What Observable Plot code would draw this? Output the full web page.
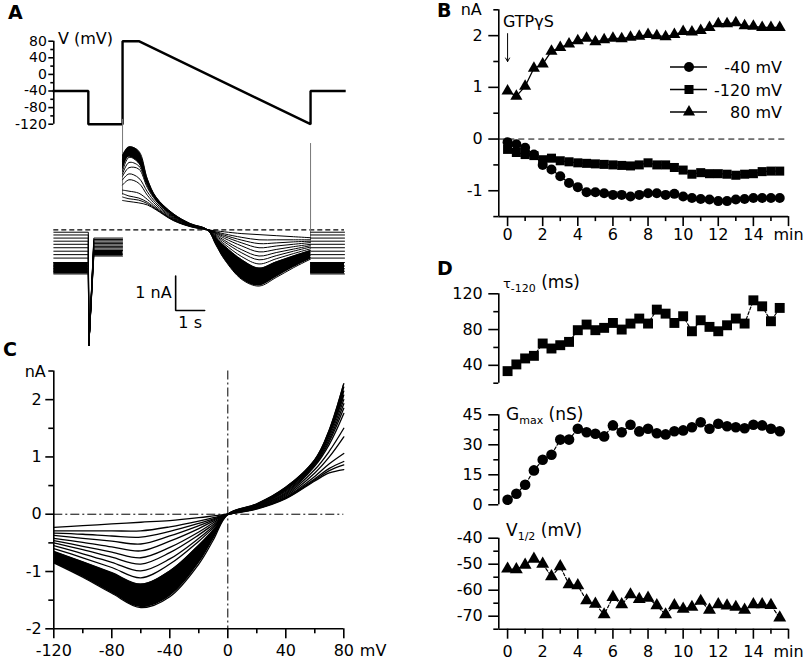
<!DOCTYPE html>
<html><head><meta charset="utf-8">
<script src="https://cdn.jsdelivr.net/npm/d3@7"></script>
<script src="https://cdn.jsdelivr.net/npm/@observablehq/plot@0.6"></script>
<style>
body{margin:0;background:#fff;}
#fig{position:relative;width:803px;height:661px;overflow:hidden;background:#fff;}
</style></head><body><div id="fig"></div>
<script>
// ---------------- DATA ----------------
// Panel A: voltage protocol (time in s, voltage in mV)
const protoT = [0, 1.19, 1.19, 2.37, 2.37, 2.93, 8.85, 8.85, 10.02];
const protoV = [-40, -40, -120, -120, 80, 80, -120, -40, -40];
const protoTicks = [80, 40, 0, -40, -80, -120];
const protoMinor = [60, 20, -20, -60, -100];

// Panel C: ramp I-V traces (nA) at these voltages (mV), earliest -> latest
const ivV = [-120, -100, -80, -60, -40, -20, -10, 0, 20, 40, 60, 70, 80];
const ivTraces = [
  [-0.23,-0.20,-0.17,-0.14,-0.11,-0.06,-0.03,0,0.09,0.27,0.58,0.72,0.78],
  [-0.29,-0.29,-0.29,-0.29,-0.22,-0.12,-0.06,0,0.10,0.28,0.60,0.76,0.86],
  [-0.33,-0.35,-0.38,-0.40,-0.30,-0.16,-0.08,0,0.10,0.29,0.62,0.80,0.92],
  [-0.37,-0.42,-0.47,-0.52,-0.38,-0.20,-0.10,0,0.11,0.30,0.66,0.88,1.06],
  [-0.42,-0.49,-0.57,-0.64,-0.47,-0.25,-0.12,0,0.12,0.32,0.72,1.00,1.35],
  [-0.46,-0.56,-0.66,-0.76,-0.58,-0.31,-0.15,0,0.13,0.34,0.78,1.10,1.50],
  [-0.50,-0.62,-0.75,-0.87,-0.67,-0.36,-0.18,0,0.14,0.36,0.84,1.22,1.76],
  [-0.55,-0.69,-0.84,-0.99,-0.78,-0.42,-0.21,0,0.14,0.38,0.86,1.27,1.85],
  [-0.60,-0.76,-0.93,-1.11,-0.87,-0.47,-0.24,0,0.15,0.40,0.88,1.31,1.93],
  [-0.65,-0.83,-1.02,-1.22,-0.99,-0.54,-0.28,0,0.15,0.42,0.90,1.35,2.00],
  [-0.70,-0.90,-1.12,-1.32,-1.12,-0.62,-0.32,0,0.16,0.43,0.91,1.39,2.08],
  [-0.75,-0.97,-1.21,-1.42,-1.24,-0.71,-0.36,0,0.16,0.44,0.92,1.42,2.15],
  [-0.80,-1.04,-1.30,-1.53,-1.35,-0.80,-0.40,0,0.17,0.46,0.94,1.45,2.22],
  [-0.85,-1.10,-1.38,-1.63,-1.44,-0.87,-0.45,0,0.18,0.47,0.95,1.47,2.28]
];
const ivTicks = [-2, -1, 0, 1, 2];
const ivMinor = [-1.5, -0.5, 0.5, 1.5, 2.5];
const ivVTicks = [-120, -80, -40, 0, 40, 80];
const ivVMinor = [-100, -60, -20, 20, 60];

// Panel A: current traces (nA) in the other protocol steps, one value per trace
const hold40  = [-0.07,-0.15,-0.24,-0.33,-0.42,-0.52,-0.62,-0.72,-0.82,-0.95,-1.05,-1.13,-1.20,-1.28];
const step120 = [-0.24,-0.28,-0.32,-0.36,-0.40,-0.44,-0.48,-0.52,-0.56,-0.60,-0.64,-0.68,-0.72,-0.76];
const onset80 = [0.85,0.95,1.05,1.15,1.30,1.45,1.55,1.62,1.70,1.80,1.90,2.00,2.05,2.15];
const peak80  = [0.82,0.90,0.98,1.12,1.45,1.62,1.80,1.95,2.10,2.20,2.28,2.32,2.36,2.40];
const spike = {t: 1.21, I: -3.35, recoverT: 1.38, peakT: 2.59};
const transients = [{t: 2.37, top: 3.2, bottom: 1.0}, {t: 8.85, top: 2.5, bottom: -0.31}];
const scaleBarT = [4.2, 4.2, 5.2];
const scaleBarI = [-1.34, -2.34, -2.34];

// Panel B: time course (min) of currents (nA)
const minutes = [0,0.5,1,1.5,2,2.5,3,3.5,4,4.5,5,5.5,6,6.5,7,7.5,8,8.5,9,9.5,10,10.5,11,11.5,12,12.5,13,13.5,14,14.5,15,15.5];
const bI40  = [-0.06,-0.10,-0.17,-0.30,-0.50,-0.59,-0.72,-0.85,-0.93,-1.03,-1.03,-1.05,-1.08,-1.08,-1.11,-1.08,-1.05,-1.05,-1.08,-1.06,-1.11,-1.14,-1.16,-1.17,-1.20,-1.20,-1.17,-1.16,-1.14,-1.14,-1.14,-1.14];
const bI120 = [-0.20,-0.26,-0.30,-0.32,-0.40,-0.37,-0.42,-0.44,-0.46,-0.47,-0.48,-0.49,-0.50,-0.51,-0.52,-0.50,-0.46,-0.50,-0.50,-0.55,-0.60,-0.68,-0.65,-0.67,-0.67,-0.68,-0.70,-0.68,-0.67,-0.63,-0.62,-0.62];
const bI80  = [0.93,0.83,1.02,1.37,1.45,1.70,1.77,1.84,1.90,1.95,1.88,1.92,1.95,1.94,1.97,1.99,2.02,2.00,1.98,2.02,2.08,2.07,2.10,2.16,2.23,2.23,2.25,2.19,2.18,2.16,2.16,2.16];
const seriesLabels = ["-40 mV", "-120 mV", "80 mV"];
const gtpArrow = {t: 0, from: 2.04, to: 1.5};
const bTicks = [-1, 0, 1, 2];
const bMinor = [-1.5, -0.5, 0.5, 1.5, 2.5];
const minTicks = [0, 2, 4, 6, 8, 10, 12, 14, 16];
const minMinor = [1, 3, 5, 7, 9, 11, 13, 15];

// Panel D: fitted parameters
const tau120 = [33.5,41,47.7,50.6,64.4,58.8,62.5,66.2,79.3,85.6,79.3,81.9,87.4,80,86.7,92.3,86.7,102.3,97.8,87.4,94.9,78.1,90.4,83,78.1,84.8,92.3,86.7,112.7,106,89.3,104.2];
const gmax = [2.5,5.5,10,17.2,22.5,25,32.6,32.6,38,36.3,35.5,34.2,39.7,36.3,40,36.7,38,35.8,35.2,36.8,37.2,38.8,41.3,38,40.5,39.3,38.8,38.3,40,39.7,38,36.8];
const vhalf = [-51.8,-52,-50.3,-48,-49.9,-54.7,-50.9,-57.8,-58.2,-64,-65.3,-69.4,-62.7,-65.5,-61.7,-63.5,-63,-65.9,-69.4,-65.9,-67.2,-66.5,-64.2,-67.6,-65.5,-66,-66.5,-67.6,-65.5,-65.5,-65.8,-70.6];
const tauTicks = [40, 80, 120], tauMinor = [20, 60, 100];
const gTicks = [0, 15, 30, 45], gMinor = [7.5, 22.5, 37.5];
const vTicks = [-40, -50, -60, -70], vMinor = [-45, -55, -65, -75];

// ---------------- RENDER ----------------
const FONT = "'DejaVu Sans', 'Liberation Sans', Arial, sans-serif";
const fig = document.getElementById("fig");
const fmt = d => String(d);
const fmtMin = d => d === 16 ? "min" : String(d);
const none = () => "";
const AX = 1.6;

function place(svg, left, top) {
  svg.style.position = "absolute";
  svg.style.left = left + "px";
  svg.style.top = top + "px";
  svg.style.overflow = "visible";
  svg.style.maxWidth = "none";
  svg.style.background = "transparent";
  fig.appendChild(svg);
}
const baseStyle = {fontFamily: FONT, fontSize: "16px", color: "black"};

// ---- Panel A: protocol ----
const protoData = protoT.map((t, i) => ({t, v: protoV[i]}));
place(Plot.plot({
  width: 400, height: 135,
  marginLeft: 53.3, marginRight: 56, marginTop: 40.7, marginBottom: 11.3,
  style: baseStyle,
  x: {domain: [0, 10.02], axis: null},
  y: {domain: [-120, 80], label: null},
  marks: [
    Plot.ruleX([0], {strokeWidth: AX}),
    Plot.axisY({ticks: protoTicks, tickSize: 5, tickPadding: 2, fontSize: 14, tickFormat: fmt, strokeWidth: AX}),
    Plot.axisY({ticks: protoMinor, tickSize: 3, tickFormat: none, strokeWidth: AX}),
    Plot.line(protoData, {x: "t", y: "v", strokeWidth: 2.4, strokeLinejoin: "miter", strokeLinecap: "square"})
  ]
}), 0, 0);

// ---- Panel A: current traces ----
const tStepDown = protoT[1], tStepUp = protoT[3], tRampStart = protoT[5], tRampEnd = protoT[6], tEnd = protoT[8];
const rampT = ivV.map(v => tRampStart + (80 - v) / 200 * (tRampEnd - tRampStart));
function segs(k) {
  const pre = [[0, hold40[k]], [tStepDown, hold40[k]], [spike.t, spike.I], [spike.recoverT, step120[k]], [tStepUp, step120[k]]]
    .map(([t, I]) => ({t, I}));
  const post = [[tRampEnd, hold40[k]], [tEnd, hold40[k]]].map(([t, I]) => ({t, I}));
  const ramp = [{t: tStepUp, I: onset80[k]}, {t: spike.peakT, I: peak80[k]}];
  for (let j = ivV.length - 1; j >= 0; j--) ramp.push({t: rampT[j], I: ivTraces[k][j]});
  return {pre, post, ramp};
}
const allSegs = ivTraces.map((_, k) => segs(k));
const linRows = [], rampRows = [];
allSegs.forEach((s, k) => {
  s.pre.forEach(p => linRows.push({...p, key: "pre" + k}));
  s.post.forEach(p => linRows.push({...p, key: "post" + k}));
  s.ramp.forEach(p => rampRows.push({...p, key: "ramp" + k}));
});
const bandOf = (a, b, name) => allSegs[a][name].map((p, i) => ({t: p.t, y1: p.I, y2: allSegs[b][name][i].I}));
const scaleBar = scaleBarT.map((t, i) => ({t, I: scaleBarI[i]}));

place(Plot.plot({
  width: 400, height: 237,
  marginLeft: 53.3, marginRight: 56, marginTop: 0.9, marginBottom: 1.5,
  style: baseStyle,
  x: {domain: [0, 10.02], axis: null},
  y: {domain: [-3.6, 3.2], axis: null},
  marks: [
    Plot.ruleY([0], {strokeDasharray: "5,3", strokeWidth: 1.2}),
    Plot.ruleX(transients, {x: "t", y1: "top", y2: "bottom", stroke: "#777", strokeWidth: 1}),
    Plot.areaY(bandOf(9, 13, "pre"), {x: "t", y1: "y1", y2: "y2", fill: "black"}),
    Plot.areaY(bandOf(9, 13, "post"), {x: "t", y1: "y1", y2: "y2", fill: "black"}),
    Plot.areaY(bandOf(8, 13, "ramp"), {x: "t", y1: "y1", y2: "y2", fill: "black", curve: "catmull-rom"}),
    Plot.line(linRows, {x: "t", y: "I", z: "key", strokeWidth: 1}),
    Plot.line(rampRows, {x: "t", y: "I", z: "key", strokeWidth: 1, curve: "catmull-rom"}),
    Plot.line(scaleBar, {x: "t", y: "I", strokeWidth: 1.6, strokeLinejoin: "miter"}),
    Plot.text([{t: scaleBarT[0], I: (scaleBarI[0] + scaleBarI[1]) / 2, s: "1 nA"}], {x: "t", y: "I", text: "s", textAnchor: "end", dx: -4, fontSize: 16}),
    Plot.text([{t: (scaleBarT[1] + scaleBarT[2]) / 2, I: scaleBarI[2], s: "1 s"}], {x: "t", y: "I", text: "s", dy: 12, fontSize: 16})
  ]
}), 0, 118);

// ---- Panel C: I-V ----
const ivRows = [];
ivTraces.forEach((tr, k) => tr.forEach((I, j) => ivRows.push({v: ivV[j], I, k})));
const ivBand = ivV.map((v, j) => ({v, y1: ivTraces[9][j], y2: ivTraces[13][j]}));
place(Plot.plot({
  width: 400, height: 331,
  marginLeft: 53.3, marginRight: 56.7, marginTop: 40.5, marginBottom: 32.7,
  style: baseStyle,
  x: {domain: [-120, 80], label: null},
  y: {domain: [-2, 2.5], label: null},
  marks: [
    Plot.ruleY([0], {strokeDasharray: "9,3,2,3", strokeWidth: 1}),
    Plot.ruleX([0], {strokeDasharray: "9,3,2,3", strokeWidth: 1}),
    Plot.areaY(ivBand, {x: "v", y1: "y1", y2: "y2", fill: "black", curve: "catmull-rom"}),
    Plot.line(ivRows, {x: "v", y: "I", z: "k", strokeWidth: 1.3, curve: "catmull-rom"}),
    Plot.ruleX([-120], {strokeWidth: AX}),
    Plot.ruleY([-2], {strokeWidth: AX}),
    Plot.axisY({ticks: ivTicks, tickSize: 8, tickPadding: 4, fontSize: 16, tickFormat: fmt, strokeWidth: AX}),
    Plot.axisY({ticks: ivMinor, tickSize: 5, tickFormat: none, strokeWidth: AX}),
    Plot.axisX({ticks: ivVTicks, tickSize: 10, tickPadding: 6, fontSize: 16, tickFormat: fmt, strokeWidth: AX}),
    Plot.axisX({ticks: ivVMinor, tickSize: 5, tickFormat: none, strokeWidth: AX}),
    Plot.text([{v: -120, I: 2.5, s: "nA"}], {x: "v", y: "I", text: "s", textAnchor: "end", dx: -8, dy: 1, fontSize: 16}),
    Plot.text([{v: 80, I: -2, s: "mV"}], {x: "v", y: "I", text: "s", textAnchor: "start", lineAnchor: "top", dx: 16, dy: 16, fontSize: 16})
  ]
}), 0, 330);

// ---- Panel B ----
const bRows = [];
[bI40, bI120, bI80].forEach((arr, s) => arr.forEach((I, i) => bRows.push({t: minutes[i], I, s: seriesLabels[s]})));
const bSym = {"-40 mV": ["circle", 5], "-120 mV": ["square", 5.1], "80 mV": ["triangle", 4.5]};
const xCommon = {domain: [-0.5, 16], label: null};
place(Plot.plot({
  width: 403, height: 261,
  marginLeft: 98.3, marginRight: 15, marginTop: 9.3, marginBottom: 44.9,
  style: baseStyle,
  x: xCommon,
  y: {domain: [-1.5, 2.5], label: null},
  marks: [
    Plot.ruleY([0], {strokeDasharray: "6,4", strokeWidth: 1}),
    Plot.line(bRows, {x: "t", y: "I", z: "s", strokeWidth: 1.3}),
    ...seriesLabels.map(lab => Plot.dot(bRows.filter(d => d.s === lab), {x: "t", y: "I", symbol: bSym[lab][0], r: bSym[lab][1], fill: "black", stroke: "none"})),
    Plot.arrow([gtpArrow], {x1: "t", x2: "t", y1: "from", y2: "to", strokeWidth: 1, headLength: 6}),
    Plot.ruleX([-0.5], {strokeWidth: AX}),
    Plot.ruleY([-1.5], {strokeWidth: AX}),
    Plot.axisY({ticks: bTicks, tickSize: 10, tickPadding: 6, fontSize: 16, tickFormat: fmt, strokeWidth: AX}),
    Plot.axisY({ticks: bMinor, tickSize: 5, tickFormat: none, strokeWidth: AX}),
    Plot.axisX({ticks: minTicks, tickSize: 10, tickPadding: 2, fontSize: 16, tickFormat: fmtMin, strokeWidth: AX}),
    Plot.axisX({ticks: minMinor, tickSize: 5, tickFormat: none, strokeWidth: AX}),
    Plot.text([{t: -0.5, I: 2.5, s: "nA"}], {x: "t", y: "I", text: "s", textAnchor: "end", dx: -17, fontSize: 16})
  ]
}), 400, 0);

// ---- Panel D ----
const dRows = (arr) => arr.map((v, i) => ({t: minutes[i], v}));
function dPlot(arr, yDomain, ticks, minor, sym, r, height, mt, mb, withX) {
  const marks = [
    Plot.line(dRows(arr), {x: "t", y: "v", strokeWidth: 1.2, strokeDasharray: "3,2"}),
    Plot.dot(dRows(arr), {x: "t", y: "v", symbol: sym, r, fill: "black", stroke: "none"}),
    Plot.ruleX([-0.5], {strokeWidth: AX}),
    Plot.axisY({ticks, tickSize: 10, tickPadding: 6, fontSize: 16, tickFormat: fmt, strokeWidth: AX}),
    Plot.axisY({ticks: minor, tickSize: 5, tickFormat: none, strokeWidth: AX})
  ];
  if (withX) {
    marks.push(
      Plot.ruleY([yDomain[0]], {strokeWidth: AX}),
      Plot.axisX({ticks: minTicks, tickSize: 10, tickPadding: 6, fontSize: 16, tickFormat: fmtMin, strokeWidth: AX}),
      Plot.axisX({ticks: minMinor, tickSize: 5, tickFormat: none, strokeWidth: AX})
    );
  }
  return Plot.plot({
    width: 403, height, marginLeft: 98.3, marginRight: 15, marginTop: mt, marginBottom: mb,
    style: baseStyle,
    x: withX ? xCommon : {...xCommon, axis: null},
    y: {domain: yDomain, label: null},
    marks
  });
}
place(dPlot(tau120, [20, 120], tauTicks, tauMinor, "square", 5.6, 120, 23.3, 7.3, false), 400, 270);
place(dPlot(gmax, [0, 45], gTicks, gMinor, "circle", 5.3, 115, 19.3, 5.7, false), 400, 395);
place(dPlot(vhalf, [-75, -40], vTicks, vMinor, "triangle", 4.8, 146, 22.7, 32.3, true), 400, 515);

// ---- Overlay: panel letters, titles, legend ----
const ov = d3.create("svg").attr("width", 803).attr("height", 661)
  .style("position", "absolute").style("left", "0px").style("top", "0px")
  .style("font-family", FONT).style("overflow", "visible");
[["A", 8, 19], ["B", 437, 17], ["C", 3, 356], ["D", 437, 275]].forEach(([s, x, y]) =>
  ov.append("text").attr("x", x).attr("y", y).attr("font-weight", "bold").attr("font-size", 19).text(s));
ov.append("text").attr("x", 58).attr("y", 44).attr("font-size", 16).text("V (mV)");
ov.append("text").attr("x", 503).attr("y", 27).attr("font-size", 16).text("GTPγS");

function subTitle(x, y, main, mainSize, sub, rest) {
  const t = ov.append("text").attr("x", x).attr("y", y).attr("font-size", 17);
  t.append("tspan").attr("font-size", mainSize).text(main);
  t.append("tspan").attr("font-size", 11).attr("dy", 4).text(sub);
  t.append("tspan").attr("dy", -4).text(rest);
}
subTitle(503, 288, "τ", 13, "-120", " (ms)");
subTitle(506, 420, "G", 17, "max", " (nS)");
subTitle(506, 536, "V", 17, "1/2", " (mV)");

const legendY = [67, 89.5, 112];
seriesLabels.forEach((lab, i) => {
  const y = legendY[i];
  ov.append("line").attr("x1", 670).attr("x2", 707).attr("y1", y).attr("y2", y).attr("stroke", "black").attr("stroke-width", 1.3);
  const [sym, r] = bSym[lab];
  const symType = sym === "circle" ? d3.symbolCircle : sym === "square" ? d3.symbolSquare : d3.symbolTriangle;
  ov.append("path").attr("transform", `translate(689,${y})`).attr("d", d3.symbol(symType, Math.PI * r * r)()).attr("fill", "black");
  ov.append("text").attr("x", 782).attr("y", y + 6).attr("text-anchor", "end").attr("font-size", 16).text(lab);
});
fig.appendChild(ov.node());
</script></body></html>
